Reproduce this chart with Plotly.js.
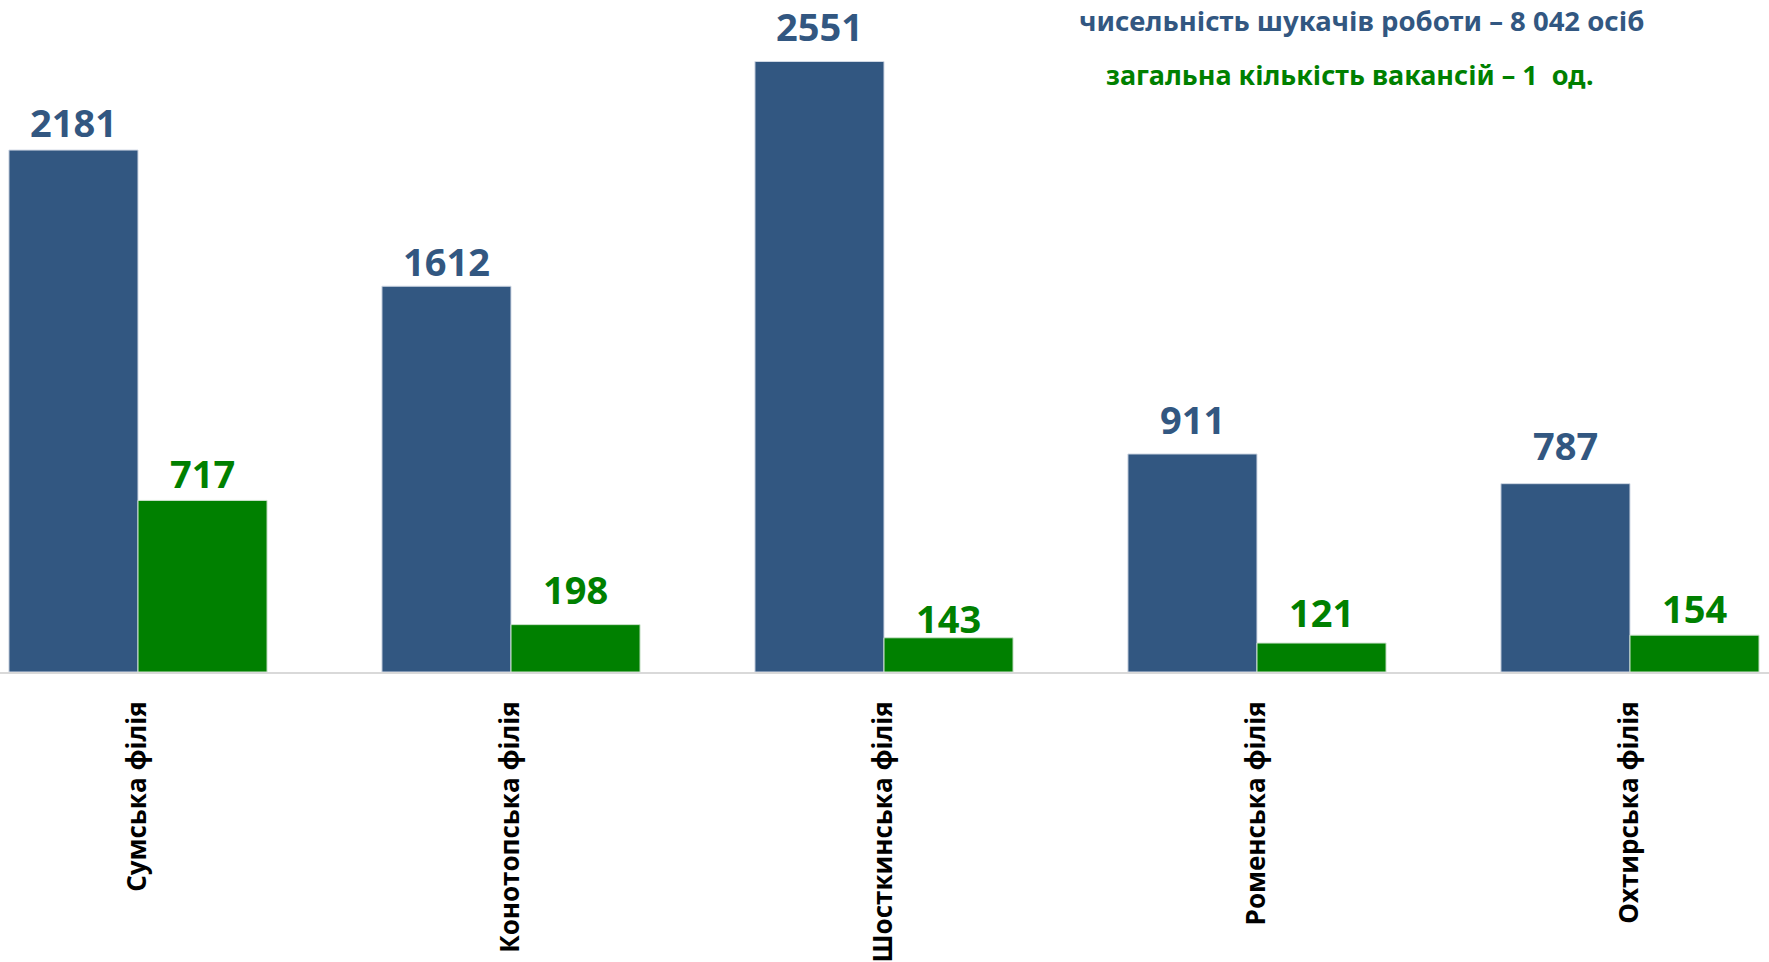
<!DOCTYPE html>
<html>
<head>
<meta charset="utf-8">
<script src="https://cdn.plot.ly/plotly-3.0.1.min.js"></script>
<style>html,body{margin:0;padding:0;background:#fff;}#chart{width:1769px;height:962px;}</style>
</head>
<body>
<div id="chart"></div>
<script>
const categories = ["Сумська філія", "Конотопська філія", "Шосткинська філія", "Роменська філія", "Охтирська філія"];
const jobSeekers = [2181, 1612, 2551, 911, 787];
const vacancies = [717, 198, 143, 121, 154];
const headerLines = ["чисельність шукачів роботи – 8 042 осіб", "загальна кількість вакансій – 1  од."];

// label placement (pixels above bar top) — layout only
const blueLift = [28, 25, 36, 35, 39];
const greenLift = [27, 36, 20, 31, 27];

const blue = "#325781";
const green = "#008000";

const traces = [
  {
    type: "bar", x: categories, y: jobSeekers, name: "шукачі",
    marker: {color: blue, line: {color: "#d0d8e4", width: 1}},
    hoverinfo: "none"
  },
  {
    type: "bar", x: categories, y: vacancies, name: "вакансії",
    marker: {color: green, line: {color: "#cfe3cf", width: 1}},
    hoverinfo: "none"
  }
];

const labelFont = (c) => ({family: "Noto Sans", size: 38, color: c, weight: 700});
const annotations = [];
categories.forEach((c, i) => {
  annotations.push({x: c, y: jobSeekers[i], xref: "x", yref: "y", text: String(jobSeekers[i]),
    showarrow: false, xshift: -64.5, yanchor: "middle", yshift: blueLift[i], font: labelFont(blue)});
  annotations.push({x: c, y: vacancies[i], xref: "x", yref: "y", text: String(vacancies[i]),
    showarrow: false, xshift: 64.5, yanchor: "middle", yshift: greenLift[i], font: labelFont(green)});
});
annotations.push(
  {text: headerLines[0], xref: "paper", yref: "paper", x: 1361 / 1769, y: 1, xanchor: "center", yanchor: "middle", yshift: -20,
   showarrow: false, font: {family: "Noto Sans", size: 27.5, color: blue, weight: 700}},
  {text: headerLines[1], xref: "paper", yref: "paper", x: 1350 / 1769, y: 1, xanchor: "center", yanchor: "middle", yshift: -74,
   showarrow: false, font: {family: "Noto Sans", size: 27, color: green, weight: 700}}
);

const layout = {
  width: 1769, height: 962,
  margin: {l: 0, r: 0, t: 0, b: 290},
  paper_bgcolor: "#fff", plot_bgcolor: "#fff",
  showlegend: false,
  barmode: "group", bargap: 0.308, bargroupgap: 0,
  font: {family: "Open Sans", color: "#000"},
  xaxis: {
    range: [-0.37, 4.3727], fixedrange: true,
    showline: true, linecolor: "#d9d9d9", linewidth: 2,
    ticks: "", tickangle: -90, ticklabelstandoff: 17,
    tickfont: {family: "Open Sans", size: 26, color: "#000", weight: 700},
    showgrid: false
  },
  yaxis: {
    range: [0, 2808], visible: false, showgrid: false, zeroline: false
  },
  annotations: annotations
};

Plotly.newPlot("chart", traces, layout, {staticPlot: true, displayModeBar: false});
</script>
</body>
</html>
